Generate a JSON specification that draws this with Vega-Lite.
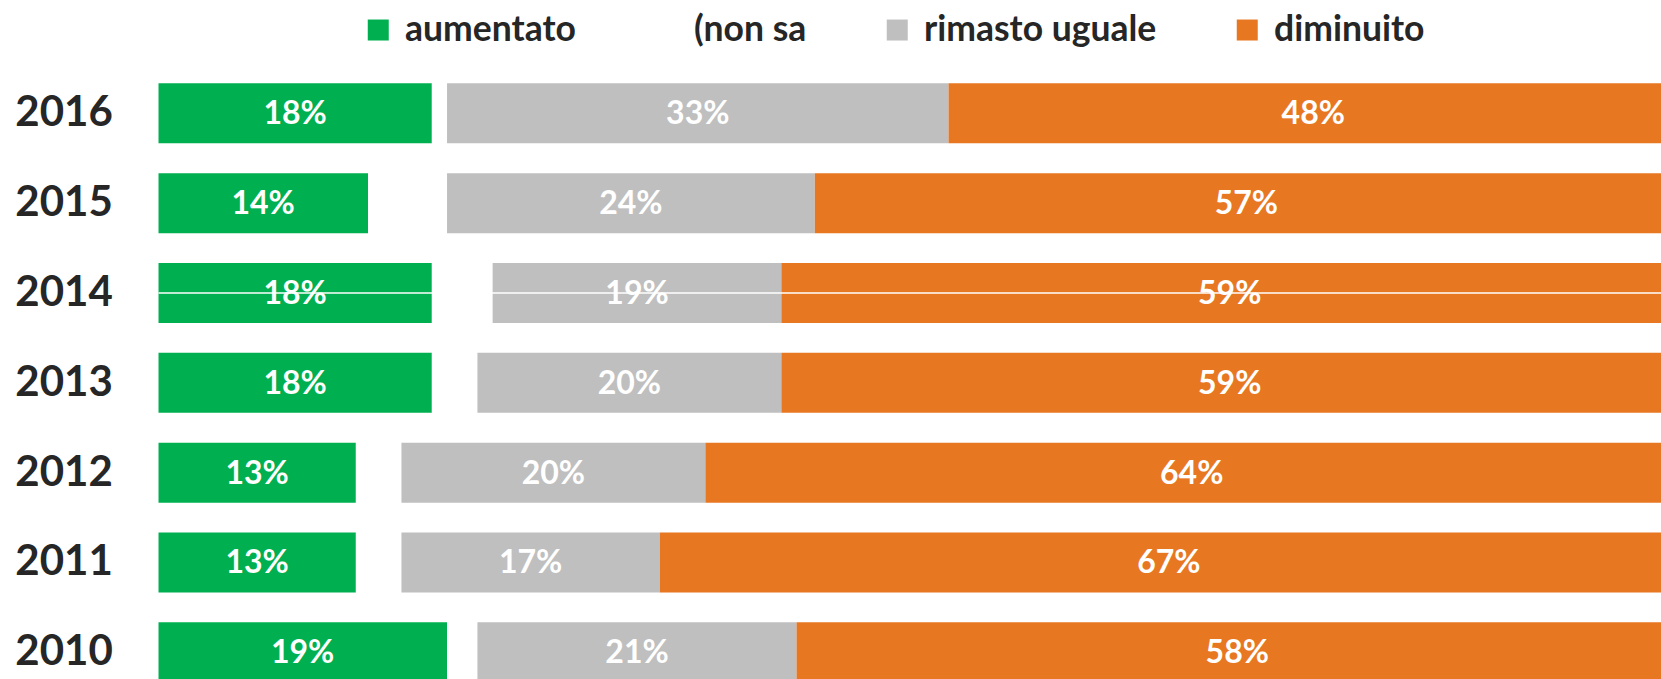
{
  "$schema": "https://vega.github.io/schema/vega-lite/v6.json",
  "width": 1502.7,
  "height": 610.6,
  "autosize": {"type": "none"},
  "padding": {"left": 158.3, "top": 68.4, "right": 0, "bottom": 0},
  "background": "white",
  "config": {"view": {"stroke": null}},
  "datasets": {
    "survey": [
      {"year": "2016", "cat": "aumentato", "k": 1, "value": 0.18},
      {"year": "2016", "cat": "(non sa", "k": 2, "value": 0.01},
      {"year": "2016", "cat": "rimasto uguale", "k": 3, "value": 0.33},
      {"year": "2016", "cat": "diminuito", "k": 4, "value": 0.48},
      {"year": "2015", "cat": "aumentato", "k": 1, "value": 0.138},
      {"year": "2015", "cat": "(non sa", "k": 2, "value": 0.052},
      {"year": "2015", "cat": "rimasto uguale", "k": 3, "value": 0.242},
      {"year": "2015", "cat": "diminuito", "k": 4, "value": 0.568},
      {"year": "2014", "cat": "aumentato", "k": 1, "value": 0.18},
      {"year": "2014", "cat": "(non sa", "k": 2, "value": 0.04},
      {"year": "2014", "cat": "rimasto uguale", "k": 3, "value": 0.19},
      {"year": "2014", "cat": "diminuito", "k": 4, "value": 0.59},
      {"year": "2013", "cat": "aumentato", "k": 1, "value": 0.18},
      {"year": "2013", "cat": "(non sa", "k": 2, "value": 0.03},
      {"year": "2013", "cat": "rimasto uguale", "k": 3, "value": 0.20},
      {"year": "2013", "cat": "diminuito", "k": 4, "value": 0.59},
      {"year": "2012", "cat": "aumentato", "k": 1, "value": 0.13},
      {"year": "2012", "cat": "(non sa", "k": 2, "value": 0.03},
      {"year": "2012", "cat": "rimasto uguale", "k": 3, "value": 0.20},
      {"year": "2012", "cat": "diminuito", "k": 4, "value": 0.64},
      {"year": "2011", "cat": "aumentato", "k": 1, "value": 0.13},
      {"year": "2011", "cat": "(non sa", "k": 2, "value": 0.03},
      {"year": "2011", "cat": "rimasto uguale", "k": 3, "value": 0.17},
      {"year": "2011", "cat": "diminuito", "k": 4, "value": 0.67},
      {"year": "2010", "cat": "aumentato", "k": 1, "value": 0.19},
      {"year": "2010", "cat": "(non sa", "k": 2, "value": 0.02},
      {"year": "2010", "cat": "rimasto uguale", "k": 3, "value": 0.21},
      {"year": "2010", "cat": "diminuito", "k": 4, "value": 0.58}
    ],
    "streak": [{"year": "2014"}]
  },
  "layer": [
    {
      "data": {"name": "survey"},
      "mark": {"type": "bar", "clip": true},
      "encoding": {
        "y": {
          "field": "year", "type": "nominal",
          "scale": {
            "domain": ["2016", "2015", "2014", "2013", "2012", "2011", "2010"],
            "range": [0, 628.8], "paddingInner": 0.332, "paddingOuter": 0.166
          },
          "axis": {
            "title": null, "ticks": false, "domain": false, "grid": false,
            "labelFont": "Lato", "labelFontWeight": "bold",
            "labelFontSize": 42, "labelColor": "#262626", "labelPadding": 46,
            "labelAlign": "right", "labelBaseline": "middle"
          }
        },
        "x": {
          "field": "value", "type": "quantitative", "stack": "zero",
          "scale": {"domain": [0, 1], "range": [0, 1519.7], "nice": false},
          "axis": null
        },
        "order": {"field": "k", "type": "quantitative"},
        "color": {
          "field": "cat", "type": "nominal",
          "scale": {
            "domain": ["aumentato", "(non sa", "rimasto uguale", "diminuito"],
            "range": ["#00B050", "#FFFFFF", "#BFBFBF", "#E87722"]
          },
          "legend": {
            "title": null, "orient": "none", "direction": "horizontal",
            "legendX": 202.2, "legendY": -56.5, "padding": 0,
            "symbolType": "square", "symbolSize": 441, "symbolStrokeWidth": 0,
            "labelFont": "Lato", "labelFontWeight": "bold",
            "labelFontSize": 35.5, "labelColor": "#262626", "labelOffset": 9,
            "labelLimit": 400, "columnPadding": 73
          }
        }
      }
    },
    {
      "data": {"name": "streak"},
      "mark": {"type": "rule", "color": "white", "strokeWidth": 1.5, "clip": true},
      "encoding": {
        "y": {"field": "year", "type": "nominal"},
        "x": {"datum": 0, "type": "quantitative"},
        "x2": {"datum": 1}
      }
    },
    {
      "data": {"name": "survey"},
      "mark": {
        "type": "text", "color": "white", "font": "Lato",
        "fontWeight": "bold", "fontSize": 32, "baseline": "middle", "align": "center", "dy": 1
      },
      "encoding": {
        "y": {"field": "year", "type": "nominal"},
        "x": {"field": "value", "type": "quantitative", "stack": "zero", "bandPosition": 0.5},
        "order": {"field": "k", "type": "quantitative"},
        "detail": {"field": "cat", "type": "nominal"},
        "text": {"field": "value", "type": "quantitative", "format": ".0%"},
        "opacity": {"condition": {"test": "datum.cat === '(non sa'", "value": 0}, "value": 1}
      }
    }
  ]
}
